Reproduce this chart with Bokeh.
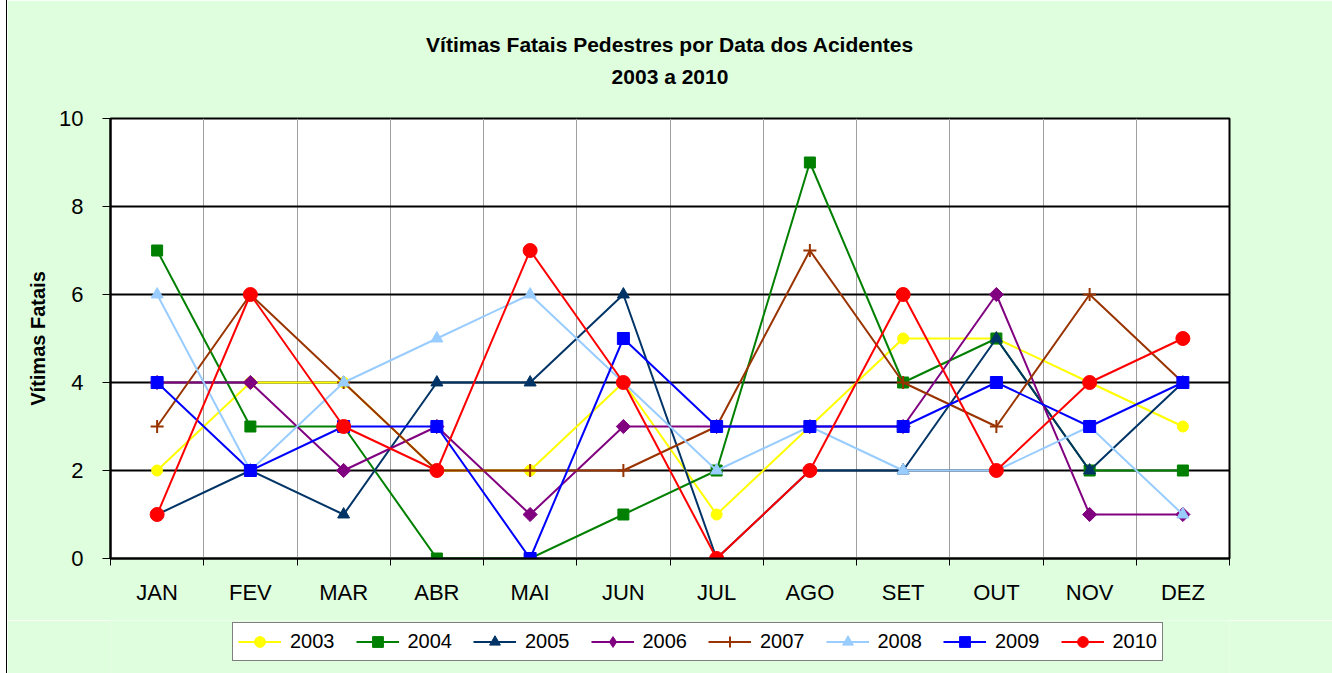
import math
from bokeh.plotting import figure
from bokeh.models import Range1d, FixedTicker, Legend, LegendItem, Title
from bokeh.layouts import column
from bokeh.embed import file_html
from bokeh.resources import INLINE

months = ["JAN", "FEV", "MAR", "ABR", "MAI", "JUN", "JUL", "AGO", "SET", "OUT", "NOV", "DEZ"]
years = ["2003", "2004", "2005", "2006", "2007", "2008", "2009", "2010"]

v2003 = [2, 4, 4, 2, 2, 4, 1, 3, 5, 5, 4, 3]
v2004 = [7, 3, 3, 0, 0, 1, 2, 9, 4, 5, 2, 2]
v2005 = [1, 2, 1, 4, 4, 6, 0, 2, 2, 5, 2, 4]
v2006 = [4, 4, 2, 3, 1, 3, 3, 3, 3, 6, 1, 1]
v2007 = [3, 6, 4, 2, 2, 2, 3, 7, 4, 3, 6, 4]
v2008 = [6, 2, 4, 5, 6, 4, 2, 3, 2, 2, 3, 1]
v2009 = [4, 2, 3, 3, 0, 5, 3, 3, 3, 4, 3, 4]
v2010 = [1, 6, 3, 2, 7, 4, 0, 2, 6, 2, 4, 5]

values = [v2003, v2004, v2005, v2006, v2007, v2008, v2009, v2010]
colors = ["#FFFF00", "#008000", "#003366", "#800080", "#993300", "#99CCFF", "#0000FF", "#FF0000"]
markers = ["circle", "square", "triangle", "square", "cross", "triangle", "square", "circle"]
legend_markers = ["circle", "square", "triangle", "diamond", "cross", "triangle", "square", "circle"]
angles = [0, 0, 0, math.pi / 4, 0, 0, 0, 0]
sizes = [11, 11, 12, 10, 13, 12, 12, 14]

FONT = "Liberation Sans"
BG = "#DEFEDE"

x = list(range(1, len(months) + 1))

p = figure(width=1325, height=620, output_backend="svg", toolbar_location=None,
           x_range=Range1d(0.5, len(months) + 0.5), y_range=Range1d(0, 10),
           min_border_left=103, min_border_right=103, min_border_top=118, min_border_bottom=62,
           margin=(0, 0, 0, 7))
p.styles = {"box-shadow": "-1px 0px 0px 0px black"}
p.title = None
p.border_fill_color = BG
p.background_fill_color = "white"
p.outline_line_color = "black"
p.outline_line_width = 2

# x axis
p.xaxis.ticker = FixedTicker(ticks=x, minor_ticks=[i + 0.5 for i in range(0, len(months) + 1)])
p.xaxis.major_label_overrides = {i: m for i, m in zip(x, months)}
p.xaxis.major_tick_line_color = None
p.xaxis.major_tick_out = 0
p.xaxis.major_tick_in = 0
p.xaxis.minor_tick_line_color = "black"
p.xaxis.minor_tick_out = 7
p.xaxis.minor_tick_in = 0
p.xaxis.axis_line_color = "black"
p.xaxis.axis_line_width = 2
p.xaxis.major_label_standoff = 14
p.xaxis.major_label_text_font = FONT
p.xaxis.major_label_text_font_size = "22px"
p.xaxis.major_label_text_color = "black"

# y axis
p.yaxis.ticker = FixedTicker(ticks=[0, 2, 4, 6, 8, 10])
p.yaxis.major_tick_out = 8
p.yaxis.major_tick_in = 0
p.yaxis.major_tick_line_color = "black"
p.yaxis.minor_tick_line_color = None
p.yaxis.axis_line_color = "black"
p.yaxis.axis_line_width = 2
p.yaxis.major_label_standoff = 19
p.yaxis.major_label_text_font = FONT
p.yaxis.major_label_text_font_size = "22px"
p.yaxis.major_label_text_color = "black"
p.yaxis.axis_label = "Vítimas Fatais"
p.yaxis.axis_label_text_font = FONT
p.yaxis.axis_label_text_font_size = "20px"
p.yaxis.axis_label_text_font_style = "bold"
p.yaxis.axis_label_text_color = "black"
p.yaxis.axis_label_standoff = 7

# grids
p.xgrid.ticker = FixedTicker(ticks=[i + 0.5 for i in range(1, len(months))])
p.xgrid.grid_line_color = "#A0A0A0"
p.xgrid.grid_line_width = 1
p.ygrid.grid_line_color = "black"
p.ygrid.grid_line_width = 2

# legend strip below the chart
pl = figure(width=1325, height=53, output_backend="svg", toolbar_location=None,
            x_range=Range1d(0.5, len(months) + 0.5), y_range=Range1d(0, 10),
            x_axis_type=None, y_axis_type=None,
            min_border_left=103, min_border_right=103, min_border_top=0, min_border_bottom=0,
            margin=(0, 0, 0, 7))
pl.styles = {"box-shadow": "-1px 0px 0px 0px black"}
pl.title = None
pl.border_fill_color = BG
pl.background_fill_color = BG
pl.outline_line_color = None
pl.xgrid.visible = False
pl.ygrid.visible = False

items = []
for name, vals, col, mk, lmk, ang, sz in zip(years, values, colors, markers, legend_markers, angles, sizes):
    p.line(x, vals, line_color=col, line_width=2)
    if mk == "cross":
        p.scatter(x, vals, marker=mk, size=sz, line_color=col, line_width=2)
    else:
        p.scatter(x, vals, marker=mk, size=sz, angle=ang, fill_color=col, line_color=col)
    # hidden copies, used only for the legend swatches
    lr = pl.line(x, vals, line_color=col, line_width=2, visible=False)
    if lmk == "cross":
        sr = pl.scatter(x, vals, marker=lmk, size=sz, line_color=col, line_width=2, visible=False)
    else:
        sr = pl.scatter(x, vals, marker=lmk, size=sz, fill_color=col, line_color=col,
                        visible=False)
    items.append(LegendItem(label=name, renderers=[lr, sr]))

legend = Legend(items=items, orientation="horizontal", location=(122, 12),
                glyph_width=43, glyph_height=27, label_standoff=9, spacing=21,
                padding=5, margin=0,
                label_text_font=FONT, label_text_font_size="20px", label_text_color="black",
                border_line_color="black", border_line_width=1,
                background_fill_color="white", background_fill_alpha=1.0,
                inactive_fill_alpha=0.0)
pl.add_layout(legend, "center")

t1 = Title(text="Vítimas Fatais Pedestres por Data dos Acidentes\n2003 a 2010", align="center",
           text_align="center",
           text_font=FONT, text_font_size="21px", text_font_style="bold",
           text_color="black", text_line_height=1.43, standoff=60)
p.add_layout(t1, "above")

layout = column(p, pl, spacing=0)
open("out.html", "w").write(file_html(layout, INLINE))
